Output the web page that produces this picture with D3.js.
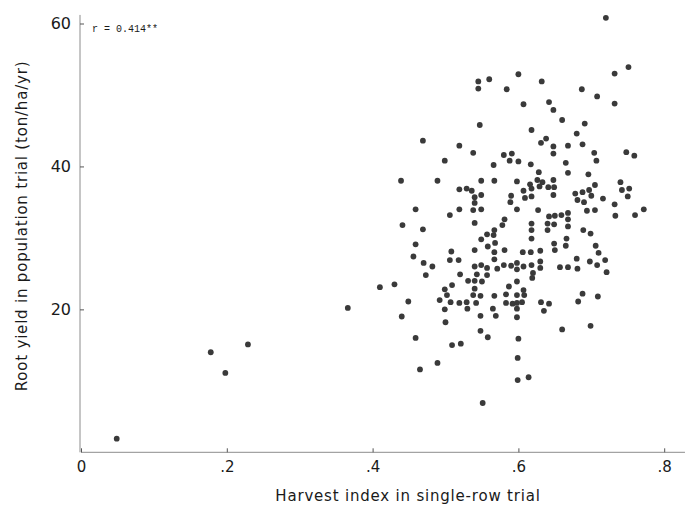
<!DOCTYPE html>
<html>
<head>
<meta charset="utf-8">
<script src="https://cdn.jsdelivr.net/npm/d3@7"></script>
<style>
  body { margin: 0; background: #fff; }
  svg { display: block; }
  text { font-family: "DejaVu Sans", "Liberation Sans", sans-serif; fill: #1a1a1a; }
</style>
</head>
<body>
<svg id="chart"></svg>
<script>

// harvest index (single-row trial) for each clone
var harvestIndex = [
  0.049,0.178,0.198,0.229,0.366,0.410,0.430,0.449,0.440,0.459,
  0.465,0.545,0.545,0.560,0.600,0.584,0.632,0.687,0.607,0.642,
  0.648,0.660,0.547,0.618,0.691,0.680,0.638,0.631,0.720,0.751,
  0.732,0.708,0.732,0.469,0.519,0.538,0.499,0.439,0.489,0.549,
  0.519,0.529,0.536,0.540,0.540,0.549,0.459,0.519,0.538,0.549,
  0.506,0.441,0.540,0.469,0.549,0.459,0.508,0.540,0.456,0.506,
  0.518,0.470,0.482,0.540,0.549,0.473,0.520,0.531,0.540,0.543,
  0.648,0.668,0.688,0.648,0.580,0.591,0.588,0.600,0.566,0.617,
  0.665,0.668,0.628,0.567,0.598,0.626,0.633,0.616,0.648,0.618,
  0.629,0.607,0.641,0.649,0.590,0.609,0.618,0.648,0.678,0.688,
  0.681,0.690,0.589,0.598,0.627,0.581,0.642,0.650,0.659,0.668,
  0.668,0.618,0.578,0.640,0.649,0.668,0.618,0.567,0.640,0.689,
  0.566,0.557,0.618,0.666,0.568,0.649,0.558,0.665,0.581,0.567,
  0.606,0.617,0.630,0.650,0.680,0.567,0.598,0.630,0.580,0.590,
  0.607,0.618,0.630,0.657,0.668,0.681,0.557,0.571,0.598,0.557,
  0.620,0.619,0.704,0.748,0.759,0.707,0.696,0.740,0.705,0.697,
  0.742,0.752,0.700,0.750,0.716,0.732,0.694,0.705,0.772,0.733,
  0.760,0.699,0.706,0.710,0.719,0.698,0.708,0.721,0.509,0.499,
  0.502,0.550,0.540,0.538,0.548,0.492,0.507,0.519,0.529,0.542,
  0.499,0.530,0.548,0.500,0.548,0.509,0.521,0.489,0.587,0.598,
  0.607,0.567,0.583,0.598,0.608,0.583,0.592,0.598,0.605,0.631,
  0.642,0.688,0.682,0.565,0.598,0.635,0.569,0.598,0.558,0.660,
  0.600,0.599,0.599,0.614,0.551,0.709,0.699
];

// root yield in population trial (ton/ha/yr), same order
var rootYield = [
  1.9,14.0,11.1,15.1,20.2,23.1,23.5,21.1,19.0,16.0,
  11.6,51.9,50.9,52.2,52.9,50.8,51.9,50.8,48.7,49.0,
  47.9,46.5,45.8,45.1,46.0,44.6,43.9,43.3,60.8,53.9,
  53.0,49.8,48.8,43.6,42.9,41.9,40.8,38.0,38.0,38.0,
  36.8,36.9,36.6,35.7,34.9,36.0,34.0,34.0,33.9,34.0,
  33.2,31.8,32.1,31.2,29.8,29.1,28.1,28.3,27.4,26.9,
  26.9,26.5,26.0,26.0,26.2,24.8,24.9,24.0,24.0,24.9,
  42.8,42.9,43.1,41.8,41.6,41.8,40.8,40.7,40.2,40.3,
  40.5,39.1,39.2,38.0,37.9,38.1,37.8,37.5,38.1,36.9,
  37.2,36.6,37.1,37.1,35.9,35.6,35.8,36.0,36.2,36.4,
  35.3,35.0,35.0,34.0,33.9,32.6,33.0,33.1,33.2,33.5,
  32.6,32.0,31.8,32.0,31.9,31.6,31.1,31.1,31.1,31.1,
  30.4,30.5,29.9,29.9,29.3,29.2,28.8,28.9,28.3,28.0,
  28.0,28.0,28.2,28.3,27.1,27.0,26.5,26.7,26.2,26.1,
  26.0,26.2,25.8,25.9,25.9,25.7,25.8,25.7,25.6,24.8,
  25.1,24.4,41.9,42.0,41.5,40.8,38.9,37.8,37.4,36.7,
  36.7,36.9,35.9,35.8,35.5,34.7,33.8,33.9,34.0,33.1,
  33.2,30.6,28.9,27.9,26.9,26.7,26.2,25.2,23.4,22.8,
  22.0,23.9,22.9,22.0,21.9,21.3,21.0,20.9,21.0,20.9,
  20.0,20.1,19.1,18.2,17.0,15.0,15.2,12.5,23.2,23.9,
  22.7,21.9,22.1,22.0,22.0,20.9,20.8,20.9,21.0,21.0,
  20.8,22.2,21.1,20.1,20.1,19.8,19.1,18.9,16.1,17.2,
  15.9,13.2,10.1,10.5,6.9,21.8,17.7
];

var xTicks = [0, 0.2, 0.4, 0.6, 0.8];
var xTickLabels = ["0", ".2", ".4", ".6", ".8"];
var yTicks = [20, 40, 60];
var yTickLabels = ["20", "40", "60"];

var width = 685, height = 512;

var svg = d3.select("#chart")
    .attr("width", width)
    .attr("height", height);

// scales (plot origin at 81,452)
var x = d3.scaleLinear().domain([0, 0.8]).range([81, 664.2]);
var y = d3.scaleLinear().domain([0, 60]).range([452.3, 23.5]);

// axis lines (run a bit past the last tick like the original)
svg.append("line")
    .attr("x1", x(0)).attr("x2", x(0.8285))
    .attr("y1", y(0)).attr("y2", y(0))
    .attr("stroke", "#8c8c8c").attr("stroke-width", 1);
svg.append("line")
    .attr("x1", x(0) - 1).attr("x2", x(0) - 1)
    .attr("y1", y(0)).attr("y2", y(61.2))
    .attr("stroke", "#8c8c8c").attr("stroke-width", 1);

// x axis
var xAxis = svg.append("g")
    .attr("transform", "translate(0," + y(0) + ")")
    .call(d3.axisBottom(x)
        .tickValues(xTicks)
        .tickFormat(function(d, i) { return xTickLabels[i]; })
        .tickSizeInner(-4)
        .tickSizeOuter(0)
        .tickPadding(9));
xAxis.select(".domain").remove();
xAxis.selectAll("line").attr("stroke", "#555");
xAxis.selectAll("text")
    .style("font-size", "15px")
    .attr("fill", "#1a1a1a");

// y axis
var yAxis = svg.append("g")
    .attr("transform", "translate(" + (x(0) - 1) + ",0)")
    .call(d3.axisLeft(y)
        .tickValues(yTicks)
        .tickFormat(function(d, i) { return yTickLabels[i]; })
        .tickSizeInner(-4)
        .tickSizeOuter(0)
        .tickPadding(9));
yAxis.select(".domain").remove();
yAxis.selectAll("line").attr("stroke", "#555");
yAxis.selectAll("text")
    .style("font-size", "16px")
    .attr("fill", "#1a1a1a");

// points
svg.append("g")
  .selectAll("circle")
    .data(harvestIndex)
  .enter().append("circle")
    .attr("cx", function(d) { return x(d); })
    .attr("cy", function(d, i) { return y(rootYield[i]); })
    .attr("r", 2.9)
    .attr("fill", "#3a3a3a");

// correlation note
svg.append("text")
    .attr("x", 92)
    .attr("y", 32)
    .style("font-family", "'Liberation Mono', 'DejaVu Sans Mono', monospace")
    .style("font-size", "10px")
    .attr("fill", "#777")
    .text("r = 0.414**");

// axis titles
svg.append("text")
    .attr("x", 408)
    .attr("y", 501)
    .style("text-anchor", "middle")
    .style("font-size", "15px")
    .style("letter-spacing", "0.8px")
    .text("Harvest index in single-row trial");

svg.append("text")
    .attr("transform", "translate(27,226) rotate(-90)")
    .style("text-anchor", "middle")
    .style("font-size", "15px")
    .style("letter-spacing", "0.8px")
    .text("Root yield in population trial (ton/ha/yr)");

</script>
</body>
</html>
